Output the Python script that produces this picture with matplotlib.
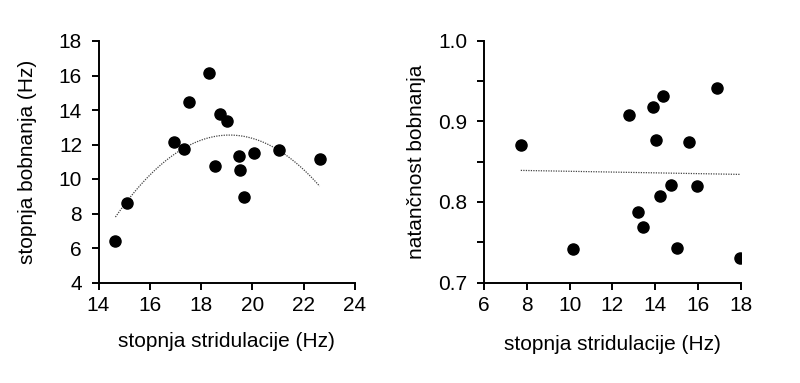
import numpy as np
import matplotlib.pyplot as plt

plt.rcParams['font.family'] = ['Liberation Sans', 'DejaVu Sans']

# left panel: stridulation rate vs drumming rate
strid_left = [14.66, 15.11, 16.96, 17.33, 17.52, 18.31, 18.55, 18.74, 19.0,
              19.48, 19.53, 19.68, 20.08, 21.02, 22.62]
drum_rate = [6.42, 8.63, 12.12, 11.72, 14.45, 16.17, 10.78, 13.77, 13.38,
             11.35, 10.53, 8.98, 11.52, 11.67, 11.17]

# right panel: stridulation rate vs drumming accuracy
strid_right = [7.72, 10.16, 12.78, 13.21, 13.42, 13.92, 14.06, 14.23, 14.39,
               14.73, 15.03, 15.56, 15.96, 16.87, 17.98]
drum_acc = [0.871, 0.742, 0.908, 0.788, 0.769, 0.917, 0.877, 0.807, 0.931,
            0.821, 0.743, 0.874, 0.820, 0.941, 0.730]

W, H = 800, 383
fig = plt.figure(figsize=(W / 100, H / 100), dpi=100)
ax1 = fig.add_axes([98.5 / W, 1 - 282.5 / H, (355 - 98.5) / W, (282.5 - 41) / H])
ax2 = fig.add_axes([484 / W, 1 - 282.5 / H, (740.7 - 484) / W, (282.5 - 40.5) / H])

def style(ax):
    for s in ['top', 'right']:
        ax.spines[s].set_visible(False)
    for s in ['left', 'bottom']:
        ax.spines[s].set_linewidth(1.4)
    ax.tick_params(direction='out', length=4.8, width=1.4, labelsize=15)
    ax.tick_params(axis='x', pad=5)
    ax.tick_params(axis='y', pad=7)

# left: scatter + quadratic trend
ax1.scatter(strid_left, drum_rate, s=64, color='black', zorder=3)
c = np.polyfit(strid_left, drum_rate, 2)
xs = np.linspace(min(strid_left), max(strid_left), 200)
ax1.plot(xs, np.polyval(c, xs), color='#444444', lw=0.9, ls=(0, (1, 1)))
ax1.set_xlim(14, 24)
ax1.set_ylim(4, 18)
ax1.set_xticks(range(14, 25, 2))
ax1.set_yticks(range(4, 19, 2))
ax1.set_xlabel('stopnja stridulacije (Hz)', fontsize=15)
ax1.set_ylabel('stopnja bobnanja (Hz)', fontsize=15)
ax1.xaxis.set_label_coords(0.5, -0.205)
ax1.yaxis.set_label_coords(-0.24, 0.5)
style(ax1)

# right: scatter + linear trend
ax2.scatter(strid_right, drum_acc, s=64, color='black', zorder=3)
c2 = np.polyfit(strid_right, drum_acc, 1)
xs2 = np.linspace(min(strid_right), max(strid_right), 2)
ax2.plot(xs2, np.polyval(c2, xs2), color='#444444', lw=0.9, ls=(0, (1, 1)))
ax2.set_xlim(6, 18)
ax2.set_ylim(0.7, 1.0)
ax2.set_xticks(range(6, 19, 2))
acc_ticks = [0.7, 0.75, 0.8, 0.85, 0.9, 0.95, 1.0]
ax2.set_yticks(acc_ticks)
ax2.set_yticklabels(['0.7', '', '0.8', '', '0.9', '', '1.0'])
ax2.set_xlabel('stopnja stridulacije (Hz)', fontsize=15)
ax2.set_ylabel('natančnost bobnanja', fontsize=15)
ax2.xaxis.set_label_coords(0.5, -0.215)
ax2.yaxis.set_label_coords(-0.226, 0.5)
style(ax2)

fig.savefig('out.png', dpi=100)
